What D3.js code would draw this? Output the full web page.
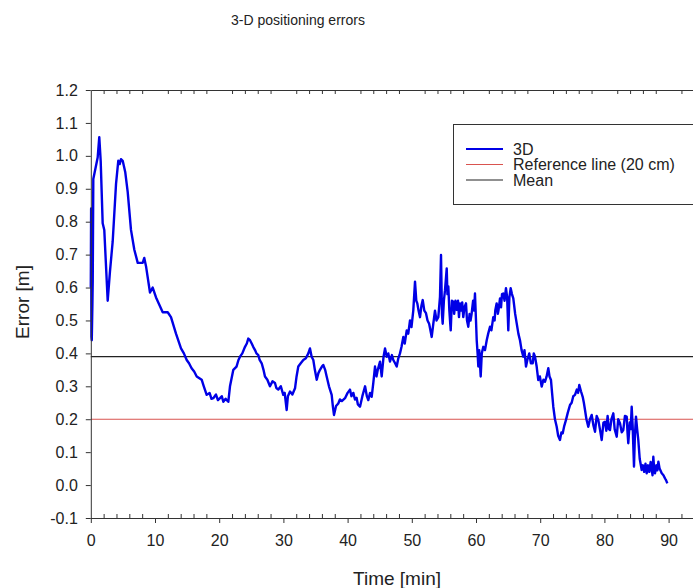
<!DOCTYPE html>
<html>
<head>
<meta charset="utf-8">
<script src="https://cdn.jsdelivr.net/npm/d3@7"></script>
<style>
  body { margin: 0; background: #fff; }
  text { font-family: "Liberation Sans", Arial, sans-serif; fill: #222; }
</style>
</head>
<body>
<div id="chart"></div>
<script>
// Values: [time (min), 3D error (m)]
var errorTrace = [
    [0.0, 0.60], [0.05, 0.84], [0.1, 0.45], [0.15, 0.44], [0.25, 0.55], [0.3, 0.62], [0.39, 0.93],
    [0.81, 0.97], [1.07, 0.995], [1.32, 1.057], [1.54, 0.985], [1.85, 0.795], [2.1, 0.775],
    [2.63, 0.56], [2.99, 0.65], [3.41, 0.74], [3.93, 0.915], [4.28, 0.985], [4.5, 0.975],
    [4.7, 0.99], [4.97, 0.985], [5.37, 0.95], [5.75, 0.89], [6.26, 0.775], [6.78, 0.715],
    [7.31, 0.675], [8.08, 0.675], [8.33, 0.69], [8.6, 0.665], [9.22, 0.585], [9.64, 0.60],
    [10.16, 0.57], [11.2, 0.525], [11.98, 0.525], [12.49, 0.51], [13.27, 0.46], [14.05, 0.415],
    [14.5, 0.40], [14.94, 0.38], [15.3, 0.37], [15.7, 0.355], [16.1, 0.345], [16.5, 0.33],
    [17.27, 0.32], [17.6, 0.30], [18.05, 0.274], [18.5, 0.28], [18.8, 0.262], [19.08, 0.264],
    [19.5, 0.275], [19.8, 0.258], [20.12, 0.264], [20.4, 0.27], [20.64, 0.253], [21.0, 0.262],
    [21.42, 0.253], [21.68, 0.30], [22.2, 0.35], [22.7, 0.36], [23.0, 0.38], [23.24, 0.39],
    [23.6, 0.40], [24.02, 0.42], [24.3, 0.43], [24.53, 0.445], [24.8, 0.44], [25.06, 0.43],
    [25.3, 0.42], [25.58, 0.41], [25.8, 0.40], [26.09, 0.395], [26.3, 0.38], [26.62, 0.37],
    [26.9, 0.35], [27.13, 0.33], [27.5, 0.32], [27.91, 0.30], [28.3, 0.315], [28.69, 0.31],
    [28.9, 0.295], [29.21, 0.29], [29.6, 0.30], [29.98, 0.274], [30.2, 0.28], [30.51, 0.228],
    [30.7, 0.27], [31.03, 0.284], [31.4, 0.275], [31.81, 0.294], [32.05, 0.33], [32.32, 0.36],
    [32.7, 0.37], [33.1, 0.38], [33.5, 0.385], [33.88, 0.40], [34.14, 0.415], [34.4, 0.39],
    [34.66, 0.38], [34.9, 0.35], [35.19, 0.32], [35.45, 0.34], [35.7, 0.35], [36.0, 0.36],
    [36.21, 0.365], [36.5, 0.35], [36.74, 0.33], [37.1, 0.30], [37.52, 0.274], [37.7, 0.24],
    [37.88, 0.213], [38.2, 0.24], [38.55, 0.248], [38.8, 0.26], [39.1, 0.255], [39.6, 0.264],
    [40.0, 0.28], [40.37, 0.29], [40.6, 0.27], [40.89, 0.28], [41.15, 0.26], [41.4, 0.265],
    [41.6, 0.245], [41.93, 0.238], [42.3, 0.27], [42.72, 0.30], [43.0, 0.27], [43.22, 0.258],
    [43.5, 0.28], [43.75, 0.268], [44.0, 0.31], [44.27, 0.36], [44.5, 0.33], [44.7, 0.35],
    [45.05, 0.375], [45.31, 0.33], [45.6, 0.39], [45.83, 0.415], [46.1, 0.39], [46.34, 0.40],
    [46.6, 0.375], [46.9, 0.395], [47.12, 0.38], [47.4, 0.37], [47.65, 0.36], [47.9, 0.385],
    [48.16, 0.40], [48.4, 0.42], [48.68, 0.45], [48.9, 0.43], [49.21, 0.47], [49.45, 0.46],
    [49.72, 0.50], [49.95, 0.48], [50.23, 0.53], [50.5, 0.618], [50.7, 0.56], [50.86, 0.552],
    [51.05, 0.53], [51.28, 0.51], [51.5, 0.545], [51.7, 0.562], [51.95, 0.53], [52.21, 0.522],
    [52.45, 0.50], [52.7, 0.49], [52.9, 0.47], [53.1, 0.45], [53.35, 0.49], [53.61, 0.53],
    [53.85, 0.50], [54.13, 0.51], [54.39, 0.572], [54.55, 0.699], [54.7, 0.52], [54.81, 0.49],
    [55.0, 0.56], [55.17, 0.592], [55.44, 0.658], [55.55, 0.58], [55.69, 0.603], [55.85, 0.53],
    [56.06, 0.47], [56.25, 0.56], [56.46, 0.557], [56.6, 0.52], [56.8, 0.56], [56.99, 0.532],
    [57.2, 0.56], [57.35, 0.51], [57.51, 0.552], [57.7, 0.53], [57.85, 0.555], [58.02, 0.51],
    [58.2, 0.54], [58.44, 0.552], [58.6, 0.50], [58.8, 0.481], [59.0, 0.52], [59.15, 0.50],
    [59.33, 0.522], [59.55, 0.56], [59.7, 0.53], [59.84, 0.582], [60.0, 0.50], [60.11, 0.44],
    [60.25, 0.40], [60.36, 0.36], [60.5, 0.41], [60.73, 0.33], [60.9, 0.40], [61.14, 0.42],
    [61.4, 0.41], [61.67, 0.44], [61.9, 0.46], [62.18, 0.481], [62.4, 0.47], [62.69, 0.51],
    [62.9, 0.50], [63.0, 0.53], [63.22, 0.552], [63.4, 0.52], [63.5, 0.53], [63.74, 0.567],
    [63.9, 0.54], [64.05, 0.58], [64.25, 0.582], [64.45, 0.56], [64.67, 0.598], [64.85, 0.57],
    [65.03, 0.47], [65.2, 0.57], [65.4, 0.598], [65.6, 0.58], [65.81, 0.567], [66.1, 0.52],
    [66.34, 0.491], [66.6, 0.46], [66.85, 0.44], [67.1, 0.41], [67.37, 0.39], [67.55, 0.41],
    [67.79, 0.36], [68.0, 0.38], [68.3, 0.40], [68.55, 0.37], [68.83, 0.37], [69.0, 0.40],
    [69.19, 0.39], [69.45, 0.36], [69.7, 0.319], [69.95, 0.33], [70.23, 0.299], [70.5, 0.32],
    [70.75, 0.314], [71.0, 0.33], [71.26, 0.355], [71.45, 0.33], [71.68, 0.319], [71.85, 0.28],
    [72.04, 0.238], [72.3, 0.20], [72.57, 0.177], [72.8, 0.15], [73.08, 0.137], [73.3, 0.16],
    [73.5, 0.157], [73.75, 0.18], [74.02, 0.198], [74.3, 0.22], [74.64, 0.243], [74.9, 0.25],
    [75.15, 0.27], [75.42, 0.274], [75.7, 0.29], [75.9, 0.28], [76.09, 0.304], [76.35, 0.285],
    [76.62, 0.268], [76.8, 0.25], [76.98, 0.228], [77.2, 0.20], [77.49, 0.177], [77.75, 0.20],
    [78.02, 0.213], [78.3, 0.18], [78.54, 0.162], [78.8, 0.21], [79.05, 0.198], [79.3, 0.17],
    [79.58, 0.137], [79.85, 0.19], [80.09, 0.192], [80.3, 0.165], [80.5, 0.21], [80.7, 0.17],
    [80.87, 0.167], [81.1, 0.20], [81.39, 0.218], [81.6, 0.17], [81.92, 0.147], [82.15, 0.20],
    [82.43, 0.188], [82.7, 0.16], [82.94, 0.167], [83.2, 0.21], [83.47, 0.208], [83.6, 0.16],
    [83.72, 0.127], [83.95, 0.19], [84.1, 0.17], [84.25, 0.238], [84.4, 0.18], [84.61, 0.056],
    [84.75, 0.15], [84.92, 0.208], [85.1, 0.17], [85.28, 0.137], [85.5, 0.08], [85.81, 0.046],
    [86.0, 0.06], [86.2, 0.04], [86.4, 0.065], [86.59, 0.036], [86.8, 0.06], [87.0, 0.04],
    [87.2, 0.07], [87.37, 0.046], [87.5, 0.03], [87.62, 0.086], [87.75, 0.05], [87.88, 0.036],
    [88.1, 0.06], [88.25, 0.045], [88.41, 0.071], [88.6, 0.05], [88.93, 0.036], [89.2, 0.03],
    [89.45, 0.020], [89.6, 0.015], [89.8, 0.005]
];
var referenceLine = 0.2;
var meanError = 0.39;
var xTicks = [0, 10, 20, 30, 40, 50, 60, 70, 80, 90];
var xMinorTicks = d3.range(0, 96, 2).filter(d => d % 10 !== 0);
var yTicks = [-0.1, 0.0, 0.1, 0.2, 0.3, 0.4, 0.5, 0.6, 0.7, 0.8, 0.9, 1.0, 1.1, 1.2];
var legendLabels = ["3D", "Reference line (20 cm)", "Mean"];
var legendColors = ["#0000e6", "#d9534f", "#222"];

// Set up SVG
var svgWidth = 693;
var svgHeight = 588;

var margin = {
    top: 90,
    left: 90.8
};

var width = 95 * 6.42;
var height = 428;

var svg = d3.select("#chart")
    .append("svg")
    .attr("width", svgWidth)
    .attr("height", svgHeight);

var chartGroup = svg.append("g")
    .attr("transform", `translate(${margin.left}, ${margin.top})`);

var xScale = d3.scaleLinear().domain([0, 95]).range([0, width]);
var yScale = d3.scaleLinear().domain([-0.1, 1.2]).range([height, 0]);

// horizontal reference and mean lines
chartGroup.append("line")
    .attr("x1", 0).attr("x2", width)
    .attr("y1", yScale(referenceLine)).attr("y2", yScale(referenceLine))
    .attr("stroke", legendColors[1]).attr("stroke-width", 1.2);

chartGroup.append("line")
    .attr("x1", 0).attr("x2", width)
    .attr("y1", yScale(meanError)).attr("y2", yScale(meanError))
    .attr("stroke", legendColors[2]).attr("stroke-width", 1.2);

// the 3D error trace
var lineGen = d3.line()
    .x(d => xScale(d[0]))
    .y(d => yScale(d[1]));

chartGroup.append("path")
    .datum(errorTrace)
    .attr("fill", "none")
    .attr("stroke", legendColors[0])
    .attr("stroke-width", 2.4)
    .attr("stroke-linejoin", "round")
    .attr("d", lineGen);

// Axes
function styleAxis(g) {
    g.selectAll("path, line").attr("stroke", "#333");
    g.selectAll("text")
        .attr("font-size", 16)
        .attr("font-family", "Liberation Sans, Arial, sans-serif")
        .attr("fill", "#222");
}

var leftAxis = d3.axisLeft(yScale)
    .tickValues(yTicks)
    .tickFormat(d => d.toFixed(1))
    .tickSize(5)
    .tickSizeOuter(0)
    .tickPadding(8);

chartGroup.append("g").call(leftAxis).call(styleAxis);

var bottomMinor = d3.axisBottom(xScale)
    .tickValues(xMinorTicks)
    .tickFormat("")
    .tickSize(-4)
    .tickSizeOuter(0);

chartGroup.append("g")
    .attr("transform", `translate(0, ${height})`)
    .call(bottomMinor).call(styleAxis);

var bottomAxis = d3.axisBottom(xScale)
    .tickValues(xTicks)
    .tickSize(5)
    .tickSizeOuter(0)
    .tickPadding(12);

chartGroup.append("g")
    .attr("transform", `translate(0, ${height})`)
    .call(bottomAxis).call(styleAxis);

var topAxis = d3.axisTop(xScale)
    .tickValues(xMinorTicks)
    .tickFormat("")
    .tickSize(-4)
    .tickSizeOuter(0);

chartGroup.append("g").call(topAxis).call(styleAxis);

// Titles
svg.append("text")
    .attr("x", 298).attr("y", 25)
    .attr("text-anchor", "middle")
    .attr("font-size", 14)
    .text("3-D positioning errors");

svg.append("text")
    .attr("x", 397).attr("y", 585)
    .attr("text-anchor", "middle")
    .attr("font-size", 19)
    .text("Time [min]");

svg.append("text")
    .attr("transform", "translate(29, 302) rotate(-90)")
    .attr("text-anchor", "middle")
    .attr("font-size", 19)
    .text("Error [m]");

// Legend
var legend = svg.append("g");

legend.append("rect")
    .attr("x", 453.5).attr("y", 124.5)
    .attr("width", 260).attr("height", 80)
    .attr("fill", "#fff")
    .attr("stroke", "#333");

var rows = legend.selectAll(".row")
    .data(legendLabels)
    .enter().append("g")
    .attr("transform", (d, i) => `translate(0, ${149 + i * 15.5})`);

rows.append("line")
    .attr("x1", 466).attr("x2", 503)
    .attr("stroke", (d, i) => legendColors[i])
    .attr("stroke-width", (d, i) => i === 0 ? 2 : 1.2);

rows.append("text")
    .attr("x", 513).attr("y", 5.5)
    .attr("font-size", 16)
    .text(d => d);
</script>
</body>
</html>
